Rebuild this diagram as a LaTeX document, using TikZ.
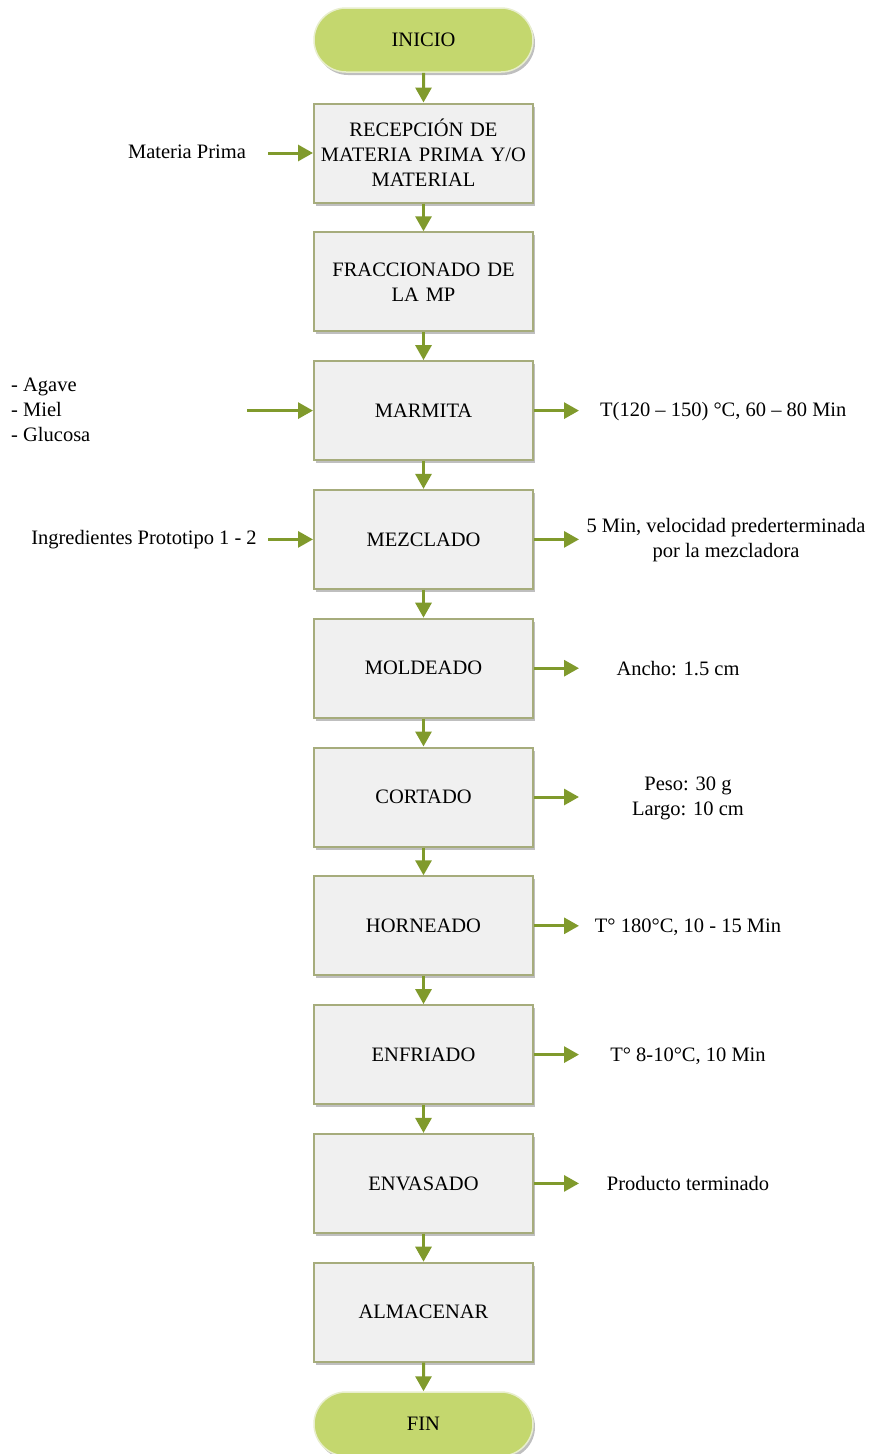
\documentclass[tikz,border=0pt]{standalone}
\usepackage{fontspec}
\setmainfont{Liberation Serif}
\usetikzlibrary{arrows.meta,shapes.misc,shadows}
\definecolor{termfill}{RGB}{196,215,110}
\definecolor{termline}{RGB}{232,238,205}
\definecolor{boxfill}{RGB}{240,240,240}
\definecolor{boxline}{RGB}{166,172,124}
\definecolor{flow}{RGB}{128,154,44}
\tikzset{
  x=1pt, y=-1pt,
  every node/.style={font=\fontsize{20.5pt}{25pt}\selectfont, text=black},
  procbox/.style={draw=boxline, line width=2pt, fill=boxfill,
    minimum width=219pt, minimum height=99pt, inner sep=2pt,
    align=center, text width=212pt,
    drop shadow={shadow xshift=2pt, shadow yshift=-3pt, opacity=0.25, fill=black}},
  termbox/.style={rounded rectangle, draw=termline, line width=1.5pt, fill=termfill,
    minimum width=219pt, minimum height=64pt, inner sep=0pt,
    drop shadow={shadow xshift=2pt, shadow yshift=-3pt, opacity=0.25, fill=black}},
  flowarrow/.style={draw=flow, line width=3pt,
    -{Triangle[length=15pt,width=16pt]}},
  note/.style={inner sep=0pt, align=center},
}
\begin{document}
\begin{tikzpicture}
\useasboundingbox (0,0) rectangle (873,1454);

% start and end terminals
\node[termbox] (ini) at (423.5,40) {INICIO};
\node[termbox] (fin) at (423.5,1424) {FIN};

% process steps
\node[procbox] (rec) at (423.5,153.0) {RECEPCIÓN DE\\MATERIA PRIMA Y/O\\MATERIAL};
\node[procbox] (fra) at (423.5,281.8) {FRACCIONADO DE\\LA MP};
\node[procbox] (mar) at (423.5,410.6) {MARMITA};
\node[procbox] (mez) at (423.5,539.4) {MEZCLADO};
\node[procbox] (mol) at (423.5,668.2) {MOLDEADO};
\node[procbox] (cor) at (423.5,797.0) {CORTADO};
\node[procbox] (hor) at (423.5,925.8) {HORNEADO};
\node[procbox] (enf) at (423.5,1054.6) {ENFRIADO};
\node[procbox] (env) at (423.5,1183.4) {ENVASADO};
\node[procbox] (alm) at (423.5,1312.2) {ALMACENAR};

% main flow
\draw[flowarrow] (ini) -- (rec);
\draw[flowarrow] (rec) -- (fra);
\draw[flowarrow] (fra) -- (mar);
\draw[flowarrow] (mar) -- (mez);
\draw[flowarrow] (mez) -- (mol);
\draw[flowarrow] (mol) -- (cor);
\draw[flowarrow] (cor) -- (hor);
\draw[flowarrow] (hor) -- (enf);
\draw[flowarrow] (enf) -- (env);
\draw[flowarrow] (env) -- (alm);
\draw[flowarrow] (alm) -- (fin);

% inputs on the left
\node[note] (inmp) at (187,152) {Materia Prima};
\coordinate (amp) at (268,153.0);
\draw[flowarrow] (amp) -- (rec.west |- amp);

\node[note, align=left, anchor=west] (inmar) at (11,410) {- Agave\\- Miel\\- Glucosa};
\coordinate (amar) at (247,410.6);
\draw[flowarrow] (amar) -- (mar.west |- amar);

\node[note] (inmez) at (144,539.5) {Ingredientes Prototipo 1 - 2};
\coordinate (amez) at (268,539.4);
\draw[flowarrow] (amez) -- (mez.west |- amez);

% outputs on the right
\coordinate (omar) at (579,410.6);
\draw[flowarrow] (mar.east |- omar) -- (omar);
\node[note, anchor=west] (tmar) at (600,411.5) {T(120 – 150) °C, 60 – 80 Min};

\coordinate (omez) at (579,539.4);
\draw[flowarrow] (mez.east |- omez) -- (omez);
\node[note] (tmez) at (726,540.5) {5 Min, velocidad prederterminada\\por la mezcladora};

\coordinate (omol) at (579,668.2);
\draw[flowarrow] (mol.east |- omol) -- (omol);
\node[note] (tmol) at (678,669) {Ancho: 1.5 cm};

\coordinate (ocor) at (579,797.0);
\draw[flowarrow] (cor.east |- ocor) -- (ocor);
\node[note] (tcor) at (688,798) {Peso: 30 g\\Largo: 10 cm};

\coordinate (ohor) at (579,925.8);
\draw[flowarrow] (hor.east |- ohor) -- (ohor);
\node[note] (thor) at (688,927) {T° 180°C, 10 - 15 Min};

\coordinate (oenf) at (579,1054.6);
\draw[flowarrow] (enf.east |- oenf) -- (oenf);
\node[note] (tenf) at (688,1056) {T° 8-10°C, 10 Min};

\coordinate (oenv) at (579,1183.4);
\draw[flowarrow] (env.east |- oenv) -- (oenv);
\node[note] (tenv) at (688,1183.5) {Producto terminado};
\end{tikzpicture}
\end{document}
